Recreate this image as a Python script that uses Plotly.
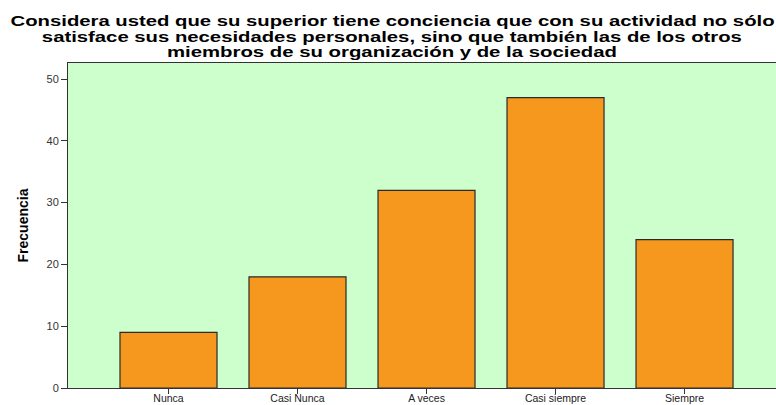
import json
import plotly.graph_objects as go

categories = ["Nunca", "Casi Nunca", "A veces", "Casi siempre", "Siempre"]
frecuencia = [9, 18, 32, 47, 24]
y_ticks = [0, 10, 20, 30, 40, 50]

title_lines = [
    "Considera usted que su superior tiene conciencia que con su actividad no sólo",
    "satisface sus necesidades personales, sino que también las de los otros",
    "miembros de su organización y de la sociedad",
]

W, H = 776, 405
M_L, M_R, M_T, M_B = 68, 0, 63, 17
plot_w = W - M_L - M_R
plot_h = H - M_T - M_B

fig = go.Figure(
    go.Bar(
        x=list(range(len(categories))),
        y=frecuencia,
        width=0.752,
        marker=dict(color="#F7981E", line=dict(color="#2a2a2a", width=1.2)),
        hoverinfo="skip",
    )
)

# Title drawn line by line so the line spacing stays tight;
# each line is then widened to its set length (wide lettering).
title_center_x = 392
title_centers_px = [21, 36, 51]
title_widths_px = [764, 700, 450]
for line, py in zip(title_lines, title_centers_px):
    fig.add_annotation(
        text=line,
        xref="paper", yref="paper",
        x=(title_center_x - M_L) / plot_w,
        y=1 + (M_T - py) / plot_h,
        xanchor="center", yanchor="middle",
        showarrow=False,
        font=dict(family="Liberation Sans, Arial", size=15, color="black", weight=700),
    )

fig.update_layout(
    width=W,
    height=H,
    margin=dict(l=M_L, r=M_R, t=M_T, b=M_B),
    paper_bgcolor="white",
    plot_bgcolor="#CCFFCC",
    showlegend=False,
)

fig.update_xaxes(
    range=[-0.779, 4.709],
    automargin=False,
    tickmode="array",
    tickvals=list(range(len(categories))),
    ticktext=categories,
    ticks="outside",
    ticklen=5,
    tickcolor="#333333",
    ticklabelstandoff=-5,
    tickfont=dict(family="Liberation Sans, Arial", size=10.5, color="#222222"),
    showgrid=False,
    zeroline=False,
    showline=True,
    linecolor="#333333",
    linewidth=1,
    mirror=True,
)

fig.update_yaxes(
    range=[0, 52.6],
    automargin=False,
    tickmode="array",
    tickvals=y_ticks,
    ticks="outside",
    ticklen=6,
    tickcolor="#333333",
    tickfont=dict(family="Liberation Sans, Arial", size=11, color="#333333"),
    showgrid=False,
    zeroline=False,
    showline=True,
    linecolor="#333333",
    linewidth=1,
    mirror=True,
    title=dict(
        text="<b>Frecuencia</b>",
        font=dict(family="Liberation Sans Narrow, Arial Narrow, Liberation Sans", size=14, color="black"),
        standoff=14,
    ),
)

stretch_js = """
var widths = %s;
var gd = document.getElementById('{plot_id}');
var texts = gd.querySelectorAll('.annotation-text');
for (var i = 0; i < texts.length && i < widths.length; i++) {
    texts[i].setAttribute('textLength', widths[i]);
    texts[i].setAttribute('lengthAdjust', 'spacingAndGlyphs');
}
""" % json.dumps(title_widths_px)

fig.write_html("out.html", post_script=stretch_js)
